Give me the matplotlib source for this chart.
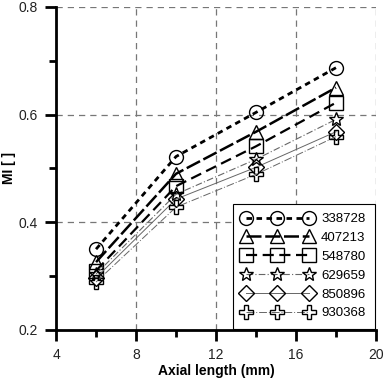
import numpy as np
import matplotlib
matplotlib.use("Agg")
import matplotlib.pyplot as plt
from matplotlib.ticker import MultipleLocator


# ======================================
# DATA
# ======================================

axial_length = [6, 10, 14, 18]

mi_338728 = [0.350, 0.522, 0.604, 0.687]
mi_407213 = [0.326, 0.490, 0.568, 0.650]
mi_548780 = [0.310, 0.467, 0.541, 0.622]
mi_629659 = [0.304, 0.452, 0.517, 0.591]
mi_850896 = [0.297, 0.443, 0.502, 0.568]
mi_930368 = [0.289, 0.428, 0.489, 0.559]

labels = ["338728", "407213", "548780", "629659", "850896", "930368"]


# ======================================
# STYLES
# ======================================

plt.rcParams["font.family"] = ["Liberation Sans", "DejaVu Sans"]

series = [mi_338728, mi_407213, mi_548780, mi_629659, mi_850896, mi_930368]
markers = ["o", "^", "s", "*", "D", "P"]
msizes = [10, 10, 10, 10, 8, 10]
lstyles = [
    (0, (2.0, 1.6)),
    (0, (6, 1.5)),
    (0, (5, 2.5)),
    (0, (6, 2, 1, 2)),
    "-",
    (0, (8, 2, 1, 2)),
]
lwidths = [2.0, 1.8, 1.6, 0.8, 0.7, 0.7]
lcolors = ["black", "black", "black", "#666666", "#666666", "#666666"]


# ======================================
# PLOT
# ======================================

fig = plt.figure(figsize=(3.84, 3.81), dpi=100)
ax = fig.add_axes([0.146, 0.134, 0.833, 0.848])

for y, m, ms, ls, lw, lc, lab in zip(series, markers, msizes, lstyles,
                                     lwidths, lcolors, labels):
    ax.plot(
        axial_length, y,
        linestyle=ls, linewidth=lw, color=lc,
        marker=m, markersize=ms, markerfacecolor="none",
        markeredgecolor="black", markeredgewidth=1.0,
        label=lab
    )

ax.set_xlim(4, 20)
ax.set_ylim(0.2, 0.8)
ax.xaxis.set_major_locator(MultipleLocator(4))
ax.xaxis.set_minor_locator(MultipleLocator(2))
ax.yaxis.set_major_locator(MultipleLocator(0.2))
ax.yaxis.set_minor_locator(MultipleLocator(0.1))
ax.set_yticklabels([f"{v:.1f}" for v in ax.get_yticks()])

ax.grid(True, which="major", linestyle=(0, (5, 4)), color="#777777",
        linewidth=0.9)
ax.set_axisbelow(True)

for s in ["top", "right"]:
    ax.spines[s].set_visible(False)
for s in ["left", "bottom"]:
    ax.spines[s].set_linewidth(2.0)

ax.tick_params(which="major", direction="out", length=8, width=2,
               labelsize=10, pad=5, labelcolor="#222222")
ax.tick_params(which="minor", direction="out", length=5, width=2)

ax.set_xlabel("Axial length (mm)", fontsize=10, fontweight="bold",
              va="center")
ax.xaxis.set_label_coords(0.5, -0.128)
ax.set_ylabel("MI [ ]", fontsize=10, fontweight="bold", va="center")
ax.yaxis.set_label_coords(-0.148, 0.5)

leg = ax.legend(
    loc="lower right", numpoints=3, fontsize=9.5, frameon=True,
    fancybox=False, edgecolor="black", framealpha=1,
    handlelength=5.4, handletextpad=0.6, borderpad=0.7,
    labelspacing=0.5, borderaxespad=0.1
)
leg.get_frame().set_linewidth(0.8)

fig.savefig("out.png", dpi=100)
